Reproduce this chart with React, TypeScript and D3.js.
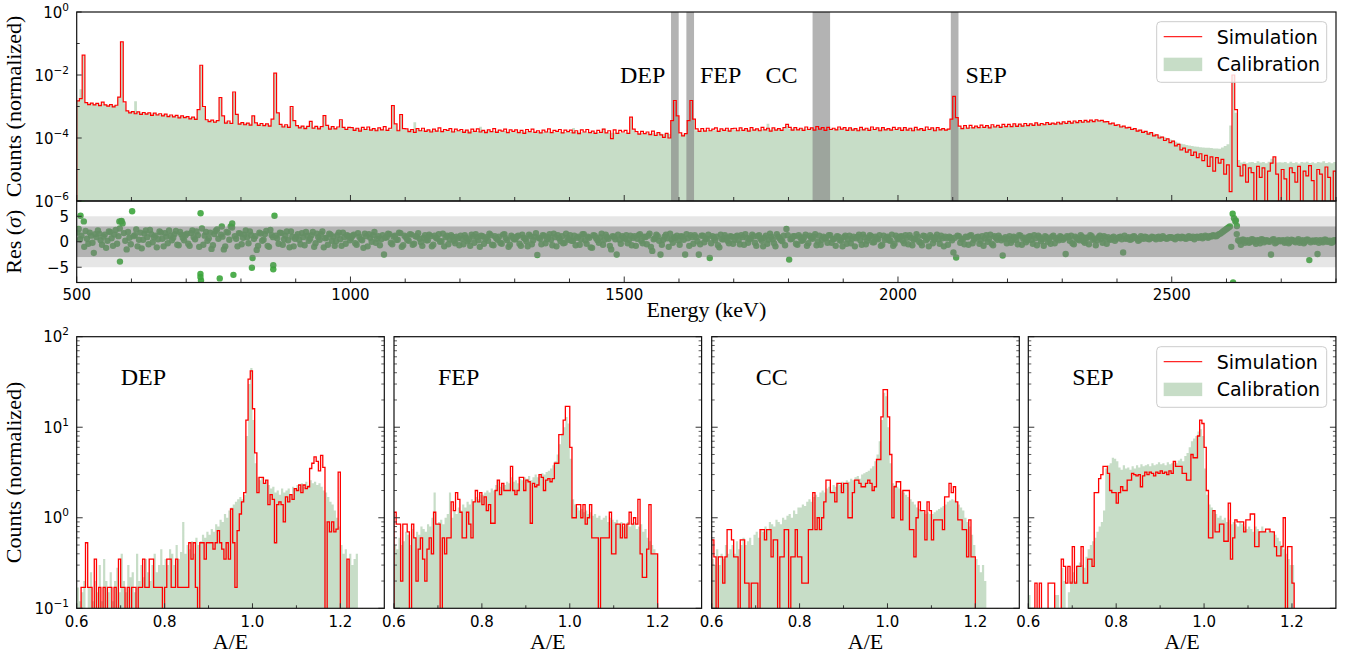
import React from 'react';
import * as d3 from 'd3';

// ---------------- DATA ----------------
// Main spectrum: 5 keV bins starting at 500 keV, values are log10(normalized counts); -7 = empty bin
const E_START = 500;
const E_BIN = 5;
const simLog10 = [
  -2.82,-2.75,-1.37,-2.88,-2.94,-2.89,-2.95,-2.90,-2.97,-2.86,-2.95,-2.99,-2.94,-3.01,-2.96,-2.70,-0.95,-2.85,-3.14,-3.20,
  -3.16,-3.23,-3.17,-3.25,-3.19,-3.24,-3.20,-3.28,-3.21,-3.27,-3.23,-3.30,-3.24,-3.32,-3.27,-3.33,-3.28,-3.36,-3.30,-3.35,
  -3.32,-3.39,-3.34,-3.41,-3.10,-1.69,-3.00,-3.42,-3.48,-3.43,-3.50,-3.45,-2.72,-3.30,-3.53,-3.46,-3.54,-2.54,-3.25,-3.56,
  -3.51,-3.58,-3.53,-3.59,-3.30,-3.52,-3.60,-3.54,-3.61,-3.55,-3.62,-3.40,-1.94,-3.20,-3.57,-3.65,-3.58,-3.66,-3.00,-3.45,
  -3.61,-3.68,-3.62,-3.70,-3.63,-3.47,-3.69,-3.63,-3.71,-3.64,-3.29,-3.60,-3.72,-3.64,-3.71,-3.65,-3.42,-3.66,-3.73,-3.66,
  -3.67,-3.76,-3.69,-3.78,-3.66,-3.73,-3.65,-3.75,-3.70,-3.77,-3.68,-3.74,-3.64,-3.76,-3.69,-2.97,-3.55,-3.77,-3.26,-3.70,
  -3.71,-3.80,-3.73,-3.82,-3.70,-3.77,-3.69,-3.79,-3.74,-3.81,-3.72,-3.78,-3.68,-3.80,-3.73,-3.76,-3.70,-3.81,-3.72,-3.77,
  -3.73,-3.82,-3.75,-3.84,-3.72,-3.79,-3.71,-3.81,-3.76,-3.83,-3.74,-3.80,-3.70,-3.82,-3.75,-3.78,-3.72,-3.83,-3.74,-3.79,
  -3.74,-3.83,-3.76,-3.85,-3.73,-3.80,-3.72,-3.82,-3.77,-3.84,-3.75,-3.81,-3.71,-3.83,-3.76,-3.79,-3.73,-3.84,-3.75,-3.80,
  -3.75,-3.84,-3.77,-3.86,-3.74,-3.81,-3.73,-3.83,-3.78,-3.85,-3.76,-3.82,-3.72,-3.84,-3.77,-4.02,-3.74,-3.85,-3.76,-3.81,
  -3.76,-3.85,-3.34,-3.72,-3.80,-3.88,-3.79,-3.86,-3.81,-3.89,-3.78,-3.92,-3.83,-3.90,-3.98,-3.85,-4.00,-3.45,-2.81,-3.30,
  -3.84,-3.93,-3.86,-3.45,-2.81,-3.40,-3.71,-3.79,-3.70,-3.78,-3.69,-3.77,-3.72,-3.68,-3.79,-3.71,-3.76,-3.69,-3.78,-3.70,
  -3.69,-3.77,-3.68,-3.76,-3.70,-3.78,-3.67,-3.75,-3.71,-3.77,-3.66,-3.74,-3.69,-3.78,-3.68,-3.75,-3.70,-3.76,-3.67,-3.57,
  -3.66,-3.75,-3.67,-3.74,-3.69,-3.76,-3.65,-3.73,-3.68,-3.75,-3.64,-3.72,-3.67,-3.76,-3.66,-3.73,-3.69,-3.74,-3.65,-3.72,
  -3.67,-3.76,-3.68,-3.75,-3.70,-3.77,-3.66,-3.74,-3.69,-3.76,-3.65,-3.73,-3.68,-3.77,-3.67,-3.74,-3.70,-3.75,-3.66,-3.73,
  -3.68,-3.76,-3.67,-3.75,-3.69,-3.77,-3.66,-3.74,-3.70,-3.76,-3.65,-3.73,-3.68,-3.77,-3.67,-3.74,-3.70,-3.75,-3.72,-3.40,
  -2.68,-3.35,-3.62,-3.70,-3.61,-3.69,-3.60,-3.68,-3.62,-3.67,-3.59,-3.66,-3.61,-3.68,-3.58,-3.65,-3.60,-3.66,-3.57,-3.64,
  -3.57,-3.64,-3.55,-3.63,-3.56,-3.62,-3.54,-3.61,-3.55,-3.60,-3.52,-3.59,-3.54,-3.58,-3.51,-3.57,-3.53,-3.56,-3.50,-3.55,
  -3.49,-3.54,-3.47,-3.53,-3.46,-3.51,-3.45,-3.50,-3.44,-3.49,-3.43,-3.48,-3.42,-3.46,-3.44,-3.49,-3.48,-3.55,-3.53,-3.60,
  -3.58,-3.65,-3.62,-3.68,-3.66,-3.73,-3.70,-3.78,-3.75,-3.82,-3.79,-3.88,-3.83,-3.93,-3.90,-4.00,-3.97,-4.08,-4.03,-4.15,
  -4.10,-4.25,-4.20,-4.38,-4.32,-4.45,-4.38,-4.55,-4.45,-4.62,-4.50,-4.72,-4.55,-4.90,-4.60,-5.05,-4.62,-4.80,-4.68,-5.15,
  -4.85,-5.70,-2.00,-3.10,-4.90,-5.20,-4.85,-5.40,-4.95,-5.10,-7.00,-4.90,-5.25,-4.95,-7.00,-5.05,-4.80,-4.60,-5.15,-7.00,
  -5.00,-5.30,-7.00,-4.95,-5.10,-5.40,-4.90,-7.00,-5.05,-5.20,-4.88,-5.35,-7.00,-5.00,-5.15,-7.00,-4.92,-5.25,-7.00,-5.05,
];
const calLog10 = [
  -2.80,-2.45,-1.40,-2.88,-2.90,-2.90,-2.92,-2.91,-2.93,-2.90,-2.94,-2.95,-2.96,-2.96,-2.97,-2.70,-0.98,-2.90,-3.15,-3.16,
  -3.17,-2.83,-3.19,-3.20,-3.21,-3.21,-3.23,-3.22,-3.24,-3.24,-3.26,-3.25,-3.27,-3.28,-3.30,-3.29,-3.31,-3.31,-3.33,-3.32,
  -3.34,-3.35,-3.35,-3.36,-3.12,-1.72,-3.02,-3.44,-3.44,-3.45,-3.46,-3.46,-2.75,-3.32,-3.48,-3.49,-3.50,-2.57,-3.27,-3.52,
  -3.53,-3.53,-3.54,-3.54,-3.32,-3.55,-3.56,-3.56,-3.57,-3.57,-3.58,-3.42,-1.96,-3.22,-3.59,-3.60,-3.61,-3.61,-3.03,-3.47,
  -3.62,-3.63,-3.63,-3.64,-3.64,-3.50,-3.65,-3.66,-3.66,-3.67,-3.32,-3.62,-3.67,-3.67,-3.68,-3.68,-3.45,-3.67,-3.69,-3.69,
  -3.70,-3.70,-3.70,-3.71,-3.71,-3.71,-3.71,-3.72,-3.72,-3.72,-3.72,-3.72,-3.73,-3.73,-3.73,-3.00,-3.57,-3.73,-3.29,-3.73,
  -3.74,-3.74,-3.74,-3.50,-3.74,-3.75,-3.75,-3.75,-3.75,-3.75,-3.76,-3.76,-3.76,-3.76,-3.76,-3.76,-3.76,-3.77,-3.77,-3.77,
  -3.77,-3.77,-3.77,-3.78,-3.77,-3.78,-3.78,-3.64,-3.78,-3.78,-3.78,-3.78,-3.78,-3.78,-3.79,-3.78,-3.78,-3.79,-3.79,-3.78,
  -3.79,-3.79,-3.79,-3.79,-3.79,-3.80,-3.80,-3.79,-3.80,-3.80,-3.80,-3.80,-3.80,-3.80,-3.80,-3.81,-3.80,-3.81,-3.81,-3.81,
  -3.81,-3.68,-3.81,-3.81,-3.82,-3.82,-3.82,-3.82,-3.82,-3.82,-3.82,-3.82,-3.70,-3.83,-3.83,-3.83,-3.83,-3.83,-3.83,-3.84,
  -3.83,-3.83,-3.37,-3.75,-3.84,-3.84,-3.84,-3.85,-3.85,-3.85,-3.85,-3.86,-3.86,-3.86,-3.87,-3.87,-3.87,-3.48,-2.84,-3.33,
  -3.88,-3.88,-3.87,-3.48,-2.84,-3.42,-3.76,-3.76,-3.76,-3.75,-3.75,-3.75,-3.75,-3.75,-3.75,-3.75,-3.74,-3.74,-3.74,-3.74,
  -3.74,-3.74,-3.73,-3.73,-3.73,-3.73,-3.73,-3.73,-3.73,-3.73,-3.72,-3.72,-3.55,-3.72,-3.72,-3.72,-3.72,-3.72,-3.71,-3.60,
  -3.71,-3.70,-3.71,-3.72,-3.71,-3.70,-3.71,-3.71,-3.70,-3.72,-3.71,-3.70,-3.71,-3.71,-3.70,-3.71,-3.72,-3.71,-3.70,-3.71,
  -3.71,-3.72,-3.71,-3.70,-3.71,-3.72,-3.71,-3.71,-3.72,-3.70,-3.71,-3.72,-3.71,-3.71,-3.70,-3.72,-3.71,-3.71,-3.72,-3.71,
  -3.71,-3.72,-3.71,-3.71,-3.72,-3.70,-3.71,-3.72,-3.71,-3.71,-3.72,-3.71,-3.70,-3.71,-3.72,-3.71,-3.71,-3.72,-3.71,-3.42,
  -2.70,-3.37,-3.67,-3.67,-3.66,-3.66,-3.65,-3.65,-3.65,-3.64,-3.64,-3.64,-3.63,-3.63,-3.63,-3.62,-3.62,-3.62,-3.61,-3.61,
  -3.60,-3.60,-3.59,-3.59,-3.58,-3.58,-3.57,-3.57,-3.56,-3.56,-3.55,-3.55,-3.55,-3.54,-3.54,-3.53,-3.53,-3.52,-3.52,-3.51,
  -3.51,-3.50,-3.49,-3.49,-3.48,-3.47,-3.47,-3.46,-3.46,-3.45,-3.45,-3.44,-3.44,-3.43,-3.44,-3.46,-3.49,-3.52,-3.55,-3.57,
  -3.59,-3.61,-3.63,-3.65,-3.67,-3.69,-3.71,-3.73,-3.75,-3.77,-3.79,-3.81,-3.84,-3.86,-3.89,-3.92,-3.95,-3.98,-4.01,-4.05,
  -4.08,-4.12,-4.15,-4.18,-4.20,-4.22,-4.24,-4.25,-4.27,-4.28,-4.29,-4.30,-4.31,-4.31,-4.32,-4.33,-4.33,-4.34,-4.30,-4.25,
  -4.20,-3.60,-2.00,-3.20,-4.70,-4.78,-4.75,-4.80,-4.77,-4.76,-4.79,-4.74,-4.78,-4.76,-4.80,-4.75,-4.66,-4.62,-4.78,-4.77,
  -4.78,-4.76,-4.80,-4.75,-4.79,-4.77,-4.81,-4.76,-4.78,-4.75,-4.79,-4.77,-4.80,-4.76,-4.78,-4.74,-4.79,-4.77,-4.80,-4.76,
];
// Residuals (sigma): two points per 5 keV bin (first and second half)
const residualsA = [
  1.8,0.5,8.5,2.1,-0.4,1.2,-2.2,0.9,1.6,-0.6,1.4,0.2,1.9,-0.8,2.3,1.1,4.0,1.7,-1.5,0.8,
  6.0,1.3,-0.9,1.8,0.4,2.2,-0.5,1.5,0.9,-1.1,2.0,0.6,1.7,-0.3,1.2,0.8,2.1,-0.7,1.4,0.3,
  1.6,-0.8,2.2,0.5,1.3,5.6,-0.6,1.9,0.7,-1.4,1.5,2.4,-7.2,1.0,-0.9,1.8,3.0,-6.5,0.6,1.7,
  -0.5,1.4,0.9,2.0,-3.2,1.1,-0.8,1.6,0.4,2.1,-1.0,1.3,5.1,0.7,1.8,-0.6,1.2,0.3,2.0,-0.9,
  1.0,0.4,1.7,-0.7,1.2,0.6,1.9,-0.3,0.9,1.5,-1.1,0.8,1.6,0.2,-0.8,1.3,0.5,1.8,-0.4,1.1,
  0.7,1.4,-0.6,1.0,0.3,1.6,-0.9,0.8,1.3,-0.2,1.1,0.5,-2.5,0.9,1.5,-0.5,1.2,0.4,1.7,-0.7,
  0.9,0.2,1.4,-0.4,1.0,0.6,-0.8,1.3,0.3,1.1,-0.6,0.8,1.5,0.1,-0.9,1.2,0.5,1.0,-0.3,0.7,
  1.2,-0.5,0.8,0.4,1.4,-0.2,0.9,-1.0,1.1,0.6,0.2,1.3,-0.7,0.7,1.0,-0.4,1.5,0.3,-0.6,0.9,
  0.5,1.2,-0.8,0.8,0.1,1.4,-0.5,1.0,-2.6,0.6,1.3,-0.3,0.9,0.4,1.6,-0.9,0.7,1.1,-0.2,0.8,
  1.3,0.2,-0.7,1.0,0.5,1.5,-0.4,0.8,-1.2,1.2,0.3,0.9,-0.6,1.4,0.6,-1.5,1.0,-2.5,0.4,1.1,
  0.6,-0.3,1.2,0.8,-0.8,1.3,0.2,1.0,-0.5,1.6,-1.8,0.7,1.1,-2.5,0.4,1.4,-1.0,0.5,0.9,1.2,
  -0.6,1.0,-2.5,0.7,1.3,-0.4,0.9,-2.5,1.2,-0.1,0.6,-3.2,1.1,0.3,-0.7,1.4,0.5,0.8,-0.3,1.0,
  0.4,1.2,-0.5,0.9,1.5,-0.2,0.7,1.1,-0.8,1.3,0.2,0.8,-0.4,1.6,0.5,-0.9,1.0,0.3,1.2,2.5,
  -3.5,0.6,1.1,-0.6,0.9,0.3,1.4,-0.3,0.8,1.0,-0.7,1.2,0.4,0.7,-0.2,1.3,0.5,-0.8,1.0,0.2,
  0.9,-0.4,1.2,0.6,-0.9,1.0,0.3,1.4,-0.5,0.8,1.1,-0.1,0.7,1.3,-0.6,0.4,1.0,0.2,-0.8,1.2,
  0.5,1.1,-0.3,0.8,1.3,-0.7,0.6,1.0,-0.2,1.2,0.3,-0.9,0.9,0.4,1.4,-0.4,0.7,1.0,-0.6,0.8,
  -2.1,-3.1,1.1,0.5,-0.5,0.9,1.2,-0.3,0.7,1.0,0.2,-0.8,1.3,0.6,-0.4,1.1,0.4,0.8,-2.7,0.9,
  0.6,-0.2,1.0,0.4,1.3,-0.6,0.8,0.3,1.1,-0.4,0.7,1.2,0.1,-0.8,0.9,0.5,1.0,-0.3,0.6,1.1,
  0.4,-2.4,0.9,1.2,-0.5,0.7,0.3,1.0,-0.2,0.8,1.3,0.4,-0.7,0.9,0.6,1.1,-0.4,0.5,0.8,0.2,
  0.7,1.0,-2.1,0.6,0.9,0.5,1.1,0.6,0.4,0.8,1.0,0.6,0.7,0.9,0.5,1.0,0.7,0.8,0.6,0.9,
  0.8,0.5,1.0,0.7,0.9,0.6,1.1,0.8,0.5,1.0,0.9,0.7,1.2,0.8,1.0,1.3,1.1,1.5,1.8,2.2,
  2.6,3.0,5.5,4.0,0.3,-0.6,0.4,0.1,-0.2,0.5,0.0,0.3,-0.3,0.4,0.2,0.1,-2.5,0.5,-0.1,0.3,
  0.2,-0.2,0.4,0.0,0.3,-0.1,0.5,0.1,-0.3,0.4,-3.6,0.2,0.0,-2.4,0.3,-0.1,0.4,0.1,-0.2,0.3,
];
const residualsB = [
  2.5,1.2,-1.0,0.6,1.8,-0.2,1.5,2.2,0.3,1.0,-1.2,2.0,0.7,1.4,-0.4,2.6,3.6,0.2,1.9,-0.5,
  1.1,2.4,0.4,-1.3,1.6,0.9,2.3,-0.1,1.2,0.5,1.8,-0.9,1.0,2.2,0.3,1.5,-0.6,1.9,0.8,1.3,
  -0.4,1.7,0.9,2.0,-1.0,2.6,1.2,0.2,1.8,-0.7,2.1,0.6,1.4,-1.5,1.9,0.4,2.8,1.1,-0.9,1.6,
  0.8,2.2,-0.3,1.3,0.6,-1.6,1.8,0.2,1.5,-0.8,2.3,0.9,1.2,-0.4,1.7,0.5,2.0,-1.1,1.0,0.6,
  1.5,-0.5,0.9,1.9,0.2,1.3,-1.0,1.6,0.4,2.0,0.7,-0.6,1.4,1.0,0.1,1.8,-0.8,0.9,1.3,0.3,
  1.2,-0.3,1.7,0.5,-1.2,1.1,1.5,0.0,1.9,0.6,-0.7,1.3,0.8,1.6,-0.2,1.0,0.4,1.8,-1.0,1.2,
  0.4,1.5,-0.6,1.1,1.7,-0.1,0.8,0.3,1.4,-0.9,1.2,0.6,0.0,1.6,0.9,-0.5,1.3,0.2,1.0,-0.7,
  0.6,1.3,0.1,-0.8,1.0,1.5,0.3,1.2,-0.4,0.9,1.6,-0.6,1.1,0.4,-0.2,1.4,0.7,-1.0,1.2,0.5,
  1.0,-0.4,1.4,0.6,-0.9,1.1,0.3,1.7,0.8,-0.5,1.2,0.5,1.5,-0.7,0.9,1.3,0.1,-0.3,1.6,0.4,
  0.2,1.2,0.8,-0.6,1.5,0.3,1.0,-1.1,1.3,0.7,-0.2,1.6,0.4,0.9,-0.8,1.1,0.5,1.4,-0.4,0.8,
  1.3,0.4,-0.7,1.1,0.6,1.5,-0.3,0.9,1.2,-1.0,0.5,1.4,0.2,-0.6,1.0,0.7,1.6,-0.2,0.8,0.3,
  1.1,0.4,1.5,-0.8,0.9,1.3,0.1,-0.5,1.2,0.6,1.4,-0.3,0.8,1.0,-1.1,0.5,1.3,0.2,1.1,-0.4,
  1.0,0.3,1.3,-0.6,0.8,0.5,1.4,-0.2,1.1,0.6,-0.9,1.2,0.4,1.0,-0.3,1.5,0.7,0.1,-0.7,1.3,
  0.5,1.1,-0.4,1.3,0.2,0.9,-0.8,1.2,0.6,1.5,0.0,-0.6,1.0,0.8,1.3,-0.2,0.6,1.1,0.3,-0.9,
  1.2,0.5,-0.3,1.0,0.7,1.4,-0.6,0.9,0.2,1.3,-0.1,1.0,0.5,-0.8,1.2,0.8,0.3,1.4,-0.4,0.7,
  1.0,0.2,1.3,-0.5,0.8,0.4,1.5,0.0,-0.7,1.1,0.6,1.3,-0.3,0.9,0.5,1.2,-0.9,0.7,1.0,0.3,
  0.8,1.2,-0.2,0.6,1.0,-0.6,1.3,0.4,0.9,-0.4,1.1,0.7,0.0,1.4,-0.7,0.8,1.2,0.3,0.6,-0.3,
  1.1,0.3,0.8,-0.5,1.2,0.6,-0.1,1.0,0.4,1.3,-0.7,0.9,0.5,1.1,0.0,-0.4,1.2,0.7,0.3,0.9,
  0.7,1.1,0.2,-0.3,1.0,0.5,1.3,0.1,0.8,-0.5,1.1,0.6,0.3,1.2,-0.2,0.8,0.9,0.4,1.0,0.6,
  0.9,0.5,1.2,0.7,0.4,1.0,0.8,0.2,1.1,0.6,0.9,0.5,1.0,0.7,0.9,0.6,1.1,0.7,0.8,0.9,
  0.7,0.9,0.8,1.0,0.7,0.9,0.8,1.0,0.9,0.8,1.1,0.9,1.0,1.1,1.2,1.1,1.3,1.6,2.0,2.4,
  2.8,-1.0,4.6,1.5,0.1,0.4,-0.2,0.3,0.0,0.4,-0.4,0.2,0.5,-0.1,0.3,0.0,0.4,-0.3,0.2,0.1,
  0.3,0.0,-0.3,0.4,0.1,0.2,-0.2,0.3,0.0,0.4,-0.1,0.2,0.3,-0.2,0.1,0.4,0.0,0.2,-0.1,0.3,
];
// Extra residual points (several points share a bin)
const resExtraE = [507, 513, 578, 579, 582, 726, 726, 727, 784, 765, 820, 859, 859, 2617, 2619, 2612];
const resExtraV = [5.1, 4.0, 4.0, -3.9, 4.1, -6.3, -6.9, -7.6, 3.6, 3.0, -5.1, -4.6, -5.4, 4.2, 3.1, -8.0];

// Energy windows (keV) highlighted in the spectrum
const windowNames = ['DEP', 'FEP', 'CC', 'SEP'];
const windowLo = [1585.5, 1613.5, 1844, 2096.5];
const windowHi = [1599.5, 1627.5, 1876, 2110.5];

// A/E histograms: bins of 0.005 starting at 0.6, normalized counts
const AE_START = 0.6;
const AE_BIN = 0.005;
const depSim = [
  0,0,0.17,0.17,0.53,0.17,0.17,0,0.35,0,0.17,0,0.17,0,0.17,0.17,0,0.17,0,0.35,
  0.17,0.17,0,0.17,0,0.17,0.17,0,0.17,0.17,0.35,0.17,0.17,0.35,0.35,0.17,0.17,0.17,0.17,0,
  0.17,0.35,0.35,0.17,0.17,0.35,0.17,0.17,0.17,0.17,0.17,0.53,0.35,0.53,0.17,0,0.53,0.53,0.35,0.53,
  0.53,0.53,0.45,0.53,0.72,0.53,0.45,0.35,0.53,0.35,1.25,0.53,0.17,0.72,1.1,1.5,1.9,12,34,42,
  16,5.2,1.9,2.8,2.8,2.4,2.6,1.4,1.8,1.6,0.53,1.4,1.5,1.4,0.9,1.7,1.5,1.8,1.6,2.1,
  2.0,2.3,1.9,2.3,2.1,2.2,3.5,4.0,4.7,4.2,3.3,4.9,3.6,0,0.9,0.7,0.9,0.7,0.75,3.2,
  0,0,0,0.35,0,0,0,0,0,0,
];
const depCal = [
  0.17,0.12,0.15,0.2,0.1,0.17,0.25,0.12,0.2,0.15,0.3,0.12,0.35,0.2,0.15,0.25,0.12,0.2,0.28,0.15,
  0.4,0.2,0.15,0.3,0.22,0.25,0.15,0.4,0.2,0.3,0.22,0.35,0.25,0.2,0.3,0.4,0.25,0.3,0.45,0.3,
  0.35,0.3,0.45,0.4,0.3,0.5,0.35,0.42,0.9,0.4,0.5,0.45,0.55,0.4,0.6,0.5,0.55,0.65,0.6,0.7,
  0.65,0.75,0.7,0.85,0.8,0.95,0.9,1.1,1.0,1.2,1.3,1.4,1.5,1.6,1.7,1.6,1.8,8,30,45,
  12,4,2.8,2.6,2.8,2.4,2.6,2.3,2.1,2.2,1.9,2.0,1.8,2.1,1.9,2.0,2.1,1.8,2.2,2.1,
  2.3,2.2,2.4,2.2,2.5,2.3,2.6,2.4,2.5,2.3,2.4,2.2,2.0,1.9,1.7,1.5,1.4,1.2,1.0,0.8,
  0.5,0.4,0.45,0.35,0.4,0.3,0.35,0.4,0,0,
];
const fepSim = [
  1.15,0.85,0.85,0.2,0.85,0.85,0.7,0,0.85,0.6,0.2,0.45,0.6,0.35,0.2,0.45,0.6,0.4,1.15,0.85,
  0.85,0,0.6,0.4,0.6,0.6,1.5,1.2,1.9,1.6,1.15,0.6,0.6,1.15,0.85,0.6,1.5,2.0,1.5,1.9,
  1.4,1.7,1.2,1.4,0.87,0.87,2.0,2.6,1.8,2.4,2.0,2.0,2.0,3.7,2.0,1.8,2.0,2.8,2.8,2.0,
  2.6,2.5,0.87,2.4,2.2,2.3,3.0,2.8,2.0,2.6,2.7,2.5,2.7,4.0,4.0,8.3,8.3,12,17,17,
  6,1.0,1.0,1.4,1.4,1.0,1.4,0.85,1.0,1.4,0.6,0.6,0.6,0,0.6,0.6,0.6,0.6,1.15,0.4,
  0.4,0.85,0.85,0.6,0.85,0.6,0.85,1.15,0.85,1.0,0.85,1.6,0.4,0.22,0.22,0.45,1.4,0.4,0.4,0.4,
  0,0,0,0,0,0,0,0,0,0,
];
const fepCal = [
  0.5,0.45,0.6,0.5,0.55,0.7,0.65,0.5,0.75,0.6,0.7,0.65,0.8,0.75,0.7,0.85,0.8,1.0,1.9,0.85,
  0.9,0.95,0.85,1.0,1.1,1.9,1.0,1.2,1.1,1.3,1.2,1.4,1.3,1.5,1.4,1.6,1.5,1.7,1.6,1.8,
  1.8,1.9,2.0,1.9,2.1,2.0,2.3,2.6,2.2,2.4,2.3,2.5,2.4,2.8,2.5,2.6,2.4,2.7,2.6,2.8,
  2.7,2.9,2.6,2.8,3.0,2.8,2.9,3.1,3.0,3.2,3.3,3.5,3.8,4.2,5.0,6.5,8.5,10,13,11,
  4.5,1.6,1.4,1.3,1.2,1.25,1.15,1.2,1.1,1.15,1.05,1.1,1.0,1.05,0.95,1.0,1.05,0.9,1.0,0.95,
  0.9,0.95,0.85,0.9,0.8,0.85,0.9,0.8,0.85,0.9,0.75,0.8,0.85,0.7,0.75,0.6,0.55,0.5,0.45,0.4,
  0,0,0,0,0,0,0,0,0,0,
];
const ccSim = [
  0.57,0.37,0,0.37,0.37,0.19,0.37,0.74,0.74,0.57,0.37,0.37,0,0.57,0.57,0.19,0.19,0,0.19,0.19,
  0.19,0,0.74,0.74,0.57,0.74,0.74,0.37,0.57,0.57,0,0.37,0.37,0.74,0.74,0,0.37,0.37,0.74,0.37,
  0.37,0.19,0.19,0.19,0.74,0.74,1.9,0.74,1.0,0.74,1.0,1.5,2.6,2.6,1.9,1.9,1.5,2.4,2.4,1.9,
  2.4,2.4,1.0,1.0,1.9,2.6,2.6,2.4,2.2,2.2,2.4,2.6,2.4,2.0,2.2,4.4,4.4,13,26,26,
  13,5,1.0,2.2,2.5,2.5,0.95,2.0,2.0,2.0,0.74,0.74,0.37,1.0,1.5,1.2,1.2,0.57,1.5,1.2,
  0.57,0.95,0.95,0.95,0.95,0.74,1.7,1.7,2.4,1.9,2.2,1.5,0.95,0.95,0.74,0.74,0.37,0.95,0.37,0.37,
  0,0,0,0,0,0,0,0,0,0,
];
const ccCal = [
  0.35,0.3,0.45,0.3,0.4,0.35,0.5,0.4,0.45,0.5,0.4,0.55,0.45,0.5,0.6,0.5,0.55,0.6,0.5,0.65,
  0.7,0.6,0.75,0.7,0.8,0.75,0.9,0.85,0.8,0.95,0.9,0.85,1.0,0.95,1.05,1.1,1.0,1.2,1.1,1.3,
  1.3,1.4,1.35,1.5,1.6,1.5,1.7,1.8,1.7,1.9,2.0,1.9,2.1,2.2,2.0,2.3,2.2,2.4,2.3,2.5,
  2.4,2.6,2.5,2.7,2.6,2.8,2.9,2.7,3.0,3.1,3.2,3.3,3.5,3.7,4.2,5.0,7.0,12,24,22,
  10,4.0,2.4,2.3,2.2,2.1,2.0,1.9,1.8,1.7,1.6,1.5,1.4,1.3,1.25,1.2,1.15,1.1,1.15,1.1,
  1.1,1.15,1.2,1.25,1.3,1.35,1.4,1.5,1.55,1.6,1.55,1.5,1.4,1.3,1.2,1.0,0.9,0.8,0.65,0.5,
  0.35,0.3,0.25,0.3,0.2,0,0,0,0,0,
];
const sepSim = [
  0,0,0,0.19,0,0.19,0,0,0,0.19,0.19,0.19,0,0,0,0.35,0.29,0.19,0.29,0.19,
  0.48,0.19,0.29,0.29,0.48,0.19,0.19,0.35,0.35,0.29,1.9,1.9,2.7,3.0,3.7,3.7,3.1,2.0,1.9,1.9,
  1.45,1.9,2.2,2.0,2.0,2.6,2.6,3.1,3.0,2.9,3.0,2.2,2.9,3.2,3.0,3.2,3.1,2.9,3.2,3.1,
  3.3,3.1,3.2,3.0,3.3,3.1,4.2,3.7,3.7,3.7,3.1,3.1,2.6,2.6,5.0,4.6,4.6,8.0,12,11,
  6.0,2.0,0.6,0.6,1.2,0.7,0.7,0.85,0.85,0.55,0.55,1.45,0.35,0.6,0.95,0.9,0.9,0.9,0.7,0.95,
  0.95,1.1,1.1,0.48,0.48,0.7,0.7,0.7,0.75,0.75,0.7,0.7,0.48,0.38,0.38,0.48,1.0,0,0.48,0.48,
  0.19,0,0,0,0,0,0,0,0,0,
];
const sepCal = [
  0.14,0,0,0,0,0,0,0,0,0,0,0,0.14,0.14,0,0.28,0.2,0,0.15,0.2,
  0.25,0.2,0.3,0.32,0.3,0.28,0.37,0.45,0.5,0.55,0.6,0.7,0.8,0.9,1.2,3.5,3.8,4.0,4.6,4.5,
  4.2,3.6,3.4,3.8,3.5,3.6,3.4,3.7,3.5,3.8,3.6,3.9,3.7,3.8,3.9,3.7,4.0,3.8,3.9,4.1,
  3.9,4.0,3.8,4.1,3.9,4.0,4.2,4.0,4.3,4.5,4.2,4.8,5.2,6.0,7.0,7.5,8.0,9.0,9.5,8.0,
  3.5,1.8,1.4,1.3,1.2,1.1,1.0,1.05,0.95,1.0,0.9,0.95,0.85,0.9,0.85,0.8,0.9,0.85,0.8,0.75,
  0.8,0.75,0.7,0.8,0.75,0.7,0.8,0.72,0.7,0.75,0.68,0.7,0.65,0.6,0.55,0.5,0.45,0.4,0.35,0.3,
  0.3,0,0,0,0,0,0,0,0,0,
];
const aeSimSets = [depSim, fepSim, ccSim, sepSim];
const aeCalSets = [depCal, fepCal, ccCal, sepCal];

const mainXTicks = [500, 600, 700, 800, 900, 1000, 1100, 1200, 1300, 1400, 1500, 1600, 1700, 1800, 1900, 2000, 2100, 2200, 2300, 2400, 2500, 2600, 2700, 2800];
const mainXLabels = [500, 1000, 1500, 2000, 2500];
const mainYExps = [0, -2, -4, -6];
const resTicks = [5, 0, -5];
const aeMajor = [0.6, 0.8, 1.0, 1.2];
const aeMinor = [0.7, 0.9, 1.1];
const aeYExps = [2, 1, 0, -1];

// ---------------- LAYOUT ----------------
const MAIN = { l: 76.7, r: 1336, t: 12, b: 201 };
const RES = { t: 201, b: 282.5 };
const BOT = { t: 336.7, b: 608.3, w: 307.6 };
const BOT_LEFTS = [76.7, 394, 711.7, 1028.3];

const RED = '#ff0000';
const GREEN_FILL = '#8fbc8f';
const DOT = '#3ca53c';
const SANS = 'DejaVu Sans';
const SERIF = 'Liberation Serif';
const TICK = '#333';

function stepD(vals: number[], x0: number, bw: number, xs: (v: number) => number, ys: (v: number) => number, base: number, closed: boolean) {
  const parts: string[] = [`M${xs(x0).toFixed(2)},${base}`];
  vals.forEach((v, i) => {
    const y = v > 0 ? ys(v) : base + 60;
    parts.push(`V${y.toFixed(2)}H${xs(x0 + (i + 1) * bw).toFixed(2)}`);
  });
  parts.push(`V${base}`);
  if (closed) parts.push('Z');
  return parts.join('');
}

function PowLabel({ x, y, exp }: { x: number; y: number; exp: number }) {
  const s = exp < 0 ? '\u2212' + Math.abs(exp) : String(exp);
  return (
    <text x={x} y={y + 5.5} textAnchor="end" fontFamily={SANS} fontSize={15} fill="#000">
      10<tspan dy={-7} fontSize={10.5}>{s}</tspan>
    </text>
  );
}

function Legend({ x, y }: { x: number; y: number }) {
  return (
    <g>
      <rect x={x} y={y} width={170} height={60.6} rx={4} fill="#fff" fillOpacity={0.8} stroke="#cccccc" strokeWidth={1} />
      <line x1={x + 7} x2={x + 45.5} y1={y + 15} y2={y + 15} stroke={RED} strokeWidth={1.3} strokeOpacity={0.85} />
      <rect x={x + 7} y={y + 36} width={38.5} height={13.4} fill={GREEN_FILL} fillOpacity={0.5} />
      <text x={x + 60} y={y + 22.3} fontFamily={SANS} fontSize={19} fill="#000">Simulation</text>
      <text x={x + 60} y={y + 49.6} fontFamily={SANS} fontSize={19} fill="#000">Calibration</text>
    </g>
  );
}

export default function App() {
  const x = d3.scaleLinear().domain([500, 2800]).range([MAIN.l, MAIN.r]);
  const y = d3.scaleLog().domain([1e-6, 1]).range([MAIN.b, MAIN.t]);
  const yr = d3.scaleLinear().domain([-8, 8]).range([RES.b, RES.t]);

  const simVals = simLog10.map(v => (v <= -6.9 ? 0 : Math.pow(10, v)));
  const calVals = calLog10.map(v => (v <= -6.9 ? 0 : Math.pow(10, v)));

  const calD = stepD(calVals, E_START, E_BIN, x, y, MAIN.b, true);
  const simD = stepD(simVals, E_START, E_BIN, x, y, MAIN.b, false);

  const resPts = residualsA.map((v, i) => ({ e: E_START + E_BIN * i + 1.25, v }))
    .concat(residualsB.map((v, i) => ({ e: E_START + E_BIN * i + 3.75, v })))
    .concat(resExtraE.map((e, i) => ({ e, v: resExtraV[i] })));

  const mainW = MAIN.r - MAIN.l;

  return (
    <svg width={1356} height={663} style={{ position: 'absolute', left: 0, top: 0, background: '#fff' }} xmlns="http://www.w3.org/2000/svg">
      <defs>
        <clipPath id="clipMain"><rect x={MAIN.l} y={MAIN.t} width={mainW} height={MAIN.b - MAIN.t} /></clipPath>
        <clipPath id="clipRes"><rect x={MAIN.l} y={RES.t} width={mainW} height={RES.b - RES.t} /></clipPath>
        {BOT_LEFTS.map((l, i) => (
          <clipPath id={`clipB${i}`} key={i}><rect x={l} y={BOT.t} width={BOT.w} height={BOT.b - BOT.t} /></clipPath>
        ))}
      </defs>
      <rect x={0} y={0} width={1356} height={663} fill="#fff" />

      {/* ---------- main spectrum ---------- */}
      <g clipPath="url(#clipMain)">
        <path d={calD} fill={GREEN_FILL} fillOpacity={0.5} stroke="none" />
        {windowLo.map((lo, i) => (
          <rect key={i} x={x(lo)} y={MAIN.t} width={x(windowHi[i]) - x(lo)} height={MAIN.b - MAIN.t} fill="#808080" fillOpacity={0.6} />
        ))}
        <path d={simD} fill="none" stroke={RED} strokeWidth={1.2} strokeLinejoin="miter" />
      </g>
      {/* window labels */}
      <text x={620} y={82.5} fontFamily={SERIF} fontSize={24} fill="#000">{windowNames[0]}</text>
      <text x={700} y={82.5} fontFamily={SERIF} fontSize={24} fill="#000">{windowNames[1]}</text>
      <text x={765.5} y={82.5} fontFamily={SERIF} fontSize={24} fill="#000">{windowNames[2]}</text>
      <text x={965.5} y={82.5} fontFamily={SERIF} fontSize={24} fill="#000">{windowNames[3]}</text>

      {/* main ticks */}
      {mainXTicks.map(t => {
        const major = t % 500 === 0;
        return <line key={'mt' + t} x1={x(t)} x2={x(t)} y1={MAIN.b} y2={MAIN.b - (major ? 6 : 4)} stroke={TICK} strokeWidth={1} />;
      })}
      {[0, -1, -2, -3, -4, -5, -6].map(e => (
        <line key={'my' + e} x1={MAIN.l} x2={MAIN.l + (e % 2 === 0 ? 5 : 3)} y1={y(Math.pow(10, e))} y2={y(Math.pow(10, e))} stroke={TICK} strokeWidth={1} />
      ))}
      {mainYExps.map(e => <PowLabel key={'myl' + e} x={69} y={y(Math.pow(10, e))} exp={e} />)}
      <rect x={MAIN.l} y={MAIN.t} width={mainW} height={MAIN.b - MAIN.t} fill="none" stroke="#111" strokeWidth={1.2} />
      <text transform={`translate(21,${(MAIN.t + MAIN.b) / 2}) rotate(-90)`} textAnchor="middle" fontFamily={SERIF} fontSize={22} fill="#000">Counts (normalized)</text>
      <Legend x={1156.7} y={21.7} />

      {/* ---------- residuals ---------- */}
      <g clipPath="url(#clipRes)">
        {resPts.map((p, i) => (
          <circle key={'r' + i} cx={x(p.e)} cy={yr(p.v)} r={3.2} fill={DOT} fillOpacity={0.9} />
        ))}
        <rect x={MAIN.l} y={yr(5)} width={mainW} height={yr(-5) - yr(5)} fill="#808080" fillOpacity={0.2} />
        <rect x={MAIN.l} y={yr(3)} width={mainW} height={yr(-3) - yr(3)} fill="#808080" fillOpacity={0.5} />
      </g>
      {mainXTicks.map(t => {
        const major = t % 500 === 0;
        return <line key={'rt' + t} x1={x(t)} x2={x(t)} y1={RES.b} y2={RES.b - (major ? 6 : 4)} stroke={TICK} strokeWidth={1} />;
      })}
      {resTicks.map(t => (
        <g key={'ry' + t}>
          <line x1={MAIN.l} x2={MAIN.l + 5} y1={yr(t)} y2={yr(t)} stroke={TICK} strokeWidth={1} />
          <text x={69} y={yr(t) + 5.5} textAnchor="end" fontFamily={SANS} fontSize={15} fill="#000">{t < 0 ? '\u2212' + Math.abs(t) : t}</text>
        </g>
      ))}
      <rect x={MAIN.l} y={RES.t} width={mainW} height={RES.b - RES.t} fill="none" stroke="#111" strokeWidth={1.2} />
      {mainXLabels.map(t => (
        <text key={'xl' + t} x={x(t)} y={299.5} textAnchor="middle" fontFamily={SANS} fontSize={15} fill="#000">{t}</text>
      ))}
      <text x={(MAIN.l + MAIN.r) / 2} y={316.5} textAnchor="middle" fontFamily={SERIF} fontSize={22} fill="#000">Energy (keV)</text>
      <text transform={`translate(21,${(RES.t + RES.b) / 2}) rotate(-90)`} textAnchor="middle" fontFamily={SERIF} fontSize={22} fill="#000">
        Res (<tspan fontStyle="italic">σ</tspan>)
      </text>

      {/* ---------- A/E panels ---------- */}
      {BOT_LEFTS.map((l, pi) => {
        const xs = d3.scaleLinear().domain([0.6, 1.3]).range([l, l + BOT.w]);
        const ys = d3.scaleLog().domain([0.1, 100]).range([BOT.b, BOT.t]);
        const cal = stepD(aeCalSets[pi], AE_START, AE_BIN, xs, ys, BOT.b, true);
        const sim = stepD(aeSimSets[pi], AE_START, AE_BIN, xs, ys, BOT.b, false);
        const yMinor: number[] = [];
        for (let e = -1; e < 2; e++) for (let m = 2; m <= 9; m++) yMinor.push(m * Math.pow(10, e));
        return (
          <g key={'bp' + pi}>
            <g clipPath={`url(#clipB${pi})`}>
              <path d={cal} fill={GREEN_FILL} fillOpacity={0.5} stroke="none" />
              <path d={sim} fill="none" stroke={RED} strokeWidth={1.3} />
            </g>
            {aeMajor.map(t => (
              <line key={'xm' + t} x1={xs(t)} x2={xs(t)} y1={BOT.b} y2={BOT.b - 5} stroke={TICK} strokeWidth={1} />
            ))}
            {aeMinor.map(t => (
              <line key={'xn' + t} x1={xs(t)} x2={xs(t)} y1={BOT.b} y2={BOT.b - 3} stroke={TICK} strokeWidth={1} />
            ))}
            {aeYExps.map(e => (
              <g key={'ym' + e}>
                <line x1={l} x2={l + 6} y1={ys(Math.pow(10, e))} y2={ys(Math.pow(10, e))} stroke={TICK} strokeWidth={1} />
                <line x1={l + BOT.w} x2={l + BOT.w - 6} y1={ys(Math.pow(10, e))} y2={ys(Math.pow(10, e))} stroke={TICK} strokeWidth={1} />
              </g>
            ))}
            {yMinor.map(v => (
              <g key={'yn' + v}>
                <line x1={l} x2={l + 3} y1={ys(v)} y2={ys(v)} stroke={TICK} strokeWidth={0.8} />
                <line x1={l + BOT.w} x2={l + BOT.w - 3} y1={ys(v)} y2={ys(v)} stroke={TICK} strokeWidth={0.8} />
              </g>
            ))}
            <rect x={l} y={BOT.t} width={BOT.w} height={BOT.b - BOT.t} fill="none" stroke="#111" strokeWidth={1.2} />
            {aeMajor.map(t => (
              <text key={'xt' + t} x={xs(t)} y={626.5} textAnchor="middle" fontFamily={SANS} fontSize={15} fill="#000">{t.toFixed(1)}</text>
            ))}
            <text x={l + BOT.w / 2} y={649} textAnchor="middle" fontFamily={SERIF} fontSize={22} fill="#000">A/E</text>
            <text x={l + 44} y={385} fontFamily={SERIF} fontSize={24} fill="#000">{windowNames[pi]}</text>
            {pi === 0 && aeYExps.map(e => <PowLabel key={'yl' + e} x={69} y={ys(Math.pow(10, e))} exp={e} />)}
          </g>
        );
      })}
      <text transform={`translate(21,${(BOT.t + BOT.b) / 2}) rotate(-90)`} textAnchor="middle" fontFamily={SERIF} fontSize={22} fill="#000">Counts (normalized)</text>
      <Legend x={1156.7} y={346.7} />
    </svg>
  );
}
